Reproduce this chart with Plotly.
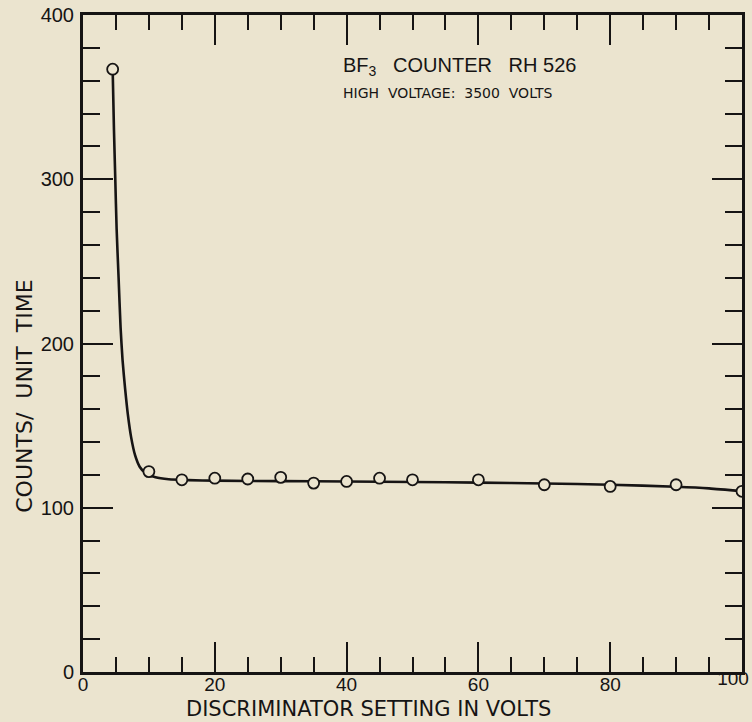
import plotly.graph_objects as go

# measured points
disc_volts = [4.5, 10, 15, 20, 25, 30, 35, 40, 45, 50, 60, 70, 80, 90, 100]
counts = [367, 122, 117, 118, 117.5, 118.5, 115, 116, 118, 117, 117, 114, 113, 114, 110]

# hand-drawn smooth curve
curve_x = [4.5, 4.7, 4.9, 5.1, 5.4, 5.7, 6.0, 6.4, 6.8, 7.3, 7.9, 8.6, 9.5, 11, 13, 16, 20, 30, 40, 50, 60, 70, 80, 90, 95, 100]
curve_y = [367, 330, 300, 270, 240, 210, 190, 172, 157, 143, 132, 125, 121, 118.5, 117.3, 116.8, 116.5, 116.2, 116, 115.7, 115.3, 114.8, 114, 112.8, 111.8, 110]

x_ticks = [0, 20, 40, 60, 80, 100]
x_ticktext = ["0", "20", "40", "60", "80", ""]
x_last_tick = [100]
x_last_text = ["100"]
y_ticks = [0, 100, 200, 300, 400]

BG = "#ebe4cf"
INK = "#161414"
FONT = "Liberation Sans"
WIDE = "DejaVu Sans"

fig = go.Figure()
fig.add_trace(go.Scatter(x=curve_x, y=curve_y, mode="lines",
                         line=dict(color=INK, width=2.6, shape="spline", smoothing=0.6),
                         hoverinfo="skip", showlegend=False))
fig.add_trace(go.Scatter(x=disc_volts, y=counts, mode="markers",
                         marker=dict(symbol="circle", size=11, color=BG,
                                     line=dict(color=INK, width=1.8)),
                         showlegend=False))
# invisible trace so the label-only overlay axis is drawn
fig.add_trace(go.Scatter(x=[disc_volts[-1]], y=[counts[-1]], xaxis="x2", mode="markers",
                         marker=dict(opacity=0), hoverinfo="skip", showlegend=False))

axis_common = dict(showgrid=False, zeroline=False, showline=True, linecolor=INK, linewidth=3,
                   mirror="ticks", ticks="inside", tickcolor=INK, tickwidth=2,
                   ticklabeloverflow="allow", automargin=False)

fig.update_layout(
    xaxis=dict(range=[0, 100], tickvals=x_ticks, ticktext=x_ticktext, ticklen=30,
               ticklabelstandoff=-7,
               tickfont=dict(family=FONT, size=19, color=INK),
               minor=dict(dtick=5, tick0=0, ticks="inside", ticklen=15, tickwidth=2, tickcolor=INK),
               **axis_common),
    xaxis2=dict(range=[0, 100], overlaying="x", side="bottom", tickvals=x_last_tick,
                ticktext=x_last_text, ticks="", showline=False, showgrid=False, zeroline=False,
                ticklabelstandoff=-7, ticklabelshift=-9, ticklabeloverflow="allow",
                automargin=False, tickfont=dict(family=FONT, size=19, color=INK)),
    yaxis=dict(range=[0, 400], tickvals=y_ticks, ticklen=30, ticklabelstandoff=2,
               tickfont=dict(family=FONT, size=20, color=INK),
               minor=dict(dtick=20, tick0=0, ticks="inside", ticklen=17, tickwidth=2, tickcolor=INK),
               **axis_common),
)

# axis titles
fig.add_annotation(x=0.433, y=-0.057, xref="paper", yref="paper", xanchor="center", yanchor="middle",
                   text="DISCRIMINATOR SETTING IN VOLTS", showarrow=False,
                   font=dict(family=WIDE, size=21, color=INK))
fig.add_annotation(x=-0.09, y=0.42, xref="paper", yref="paper", xanchor="center", yanchor="middle",
                   text="COUNTS/  UNIT  TIME", showarrow=False, textangle=-90,
                   font=dict(family=WIDE, size=22, color=INK))

# inset labels
fig.add_annotation(x=0.392, y=0.922, xref="paper", yref="paper", xanchor="left", yanchor="middle",
                   text="BF<sub>3</sub>   COUNTER   RH 526", showarrow=False,
                   font=dict(family=FONT, size=20, color=INK))
fig.add_annotation(x=0.392, y=0.881, xref="paper", yref="paper", xanchor="left", yanchor="middle",
                   text="HIGH  VOLTAGE:  3500  VOLTS", showarrow=False,
                   font=dict(family=WIDE, size=14, color=INK))

fig.update_layout(width=752, height=722, paper_bgcolor=BG, plot_bgcolor=BG,
                  margin=dict(l=83, r=10, t=15, b=50), showlegend=False)

fig.write_html("out.html")
